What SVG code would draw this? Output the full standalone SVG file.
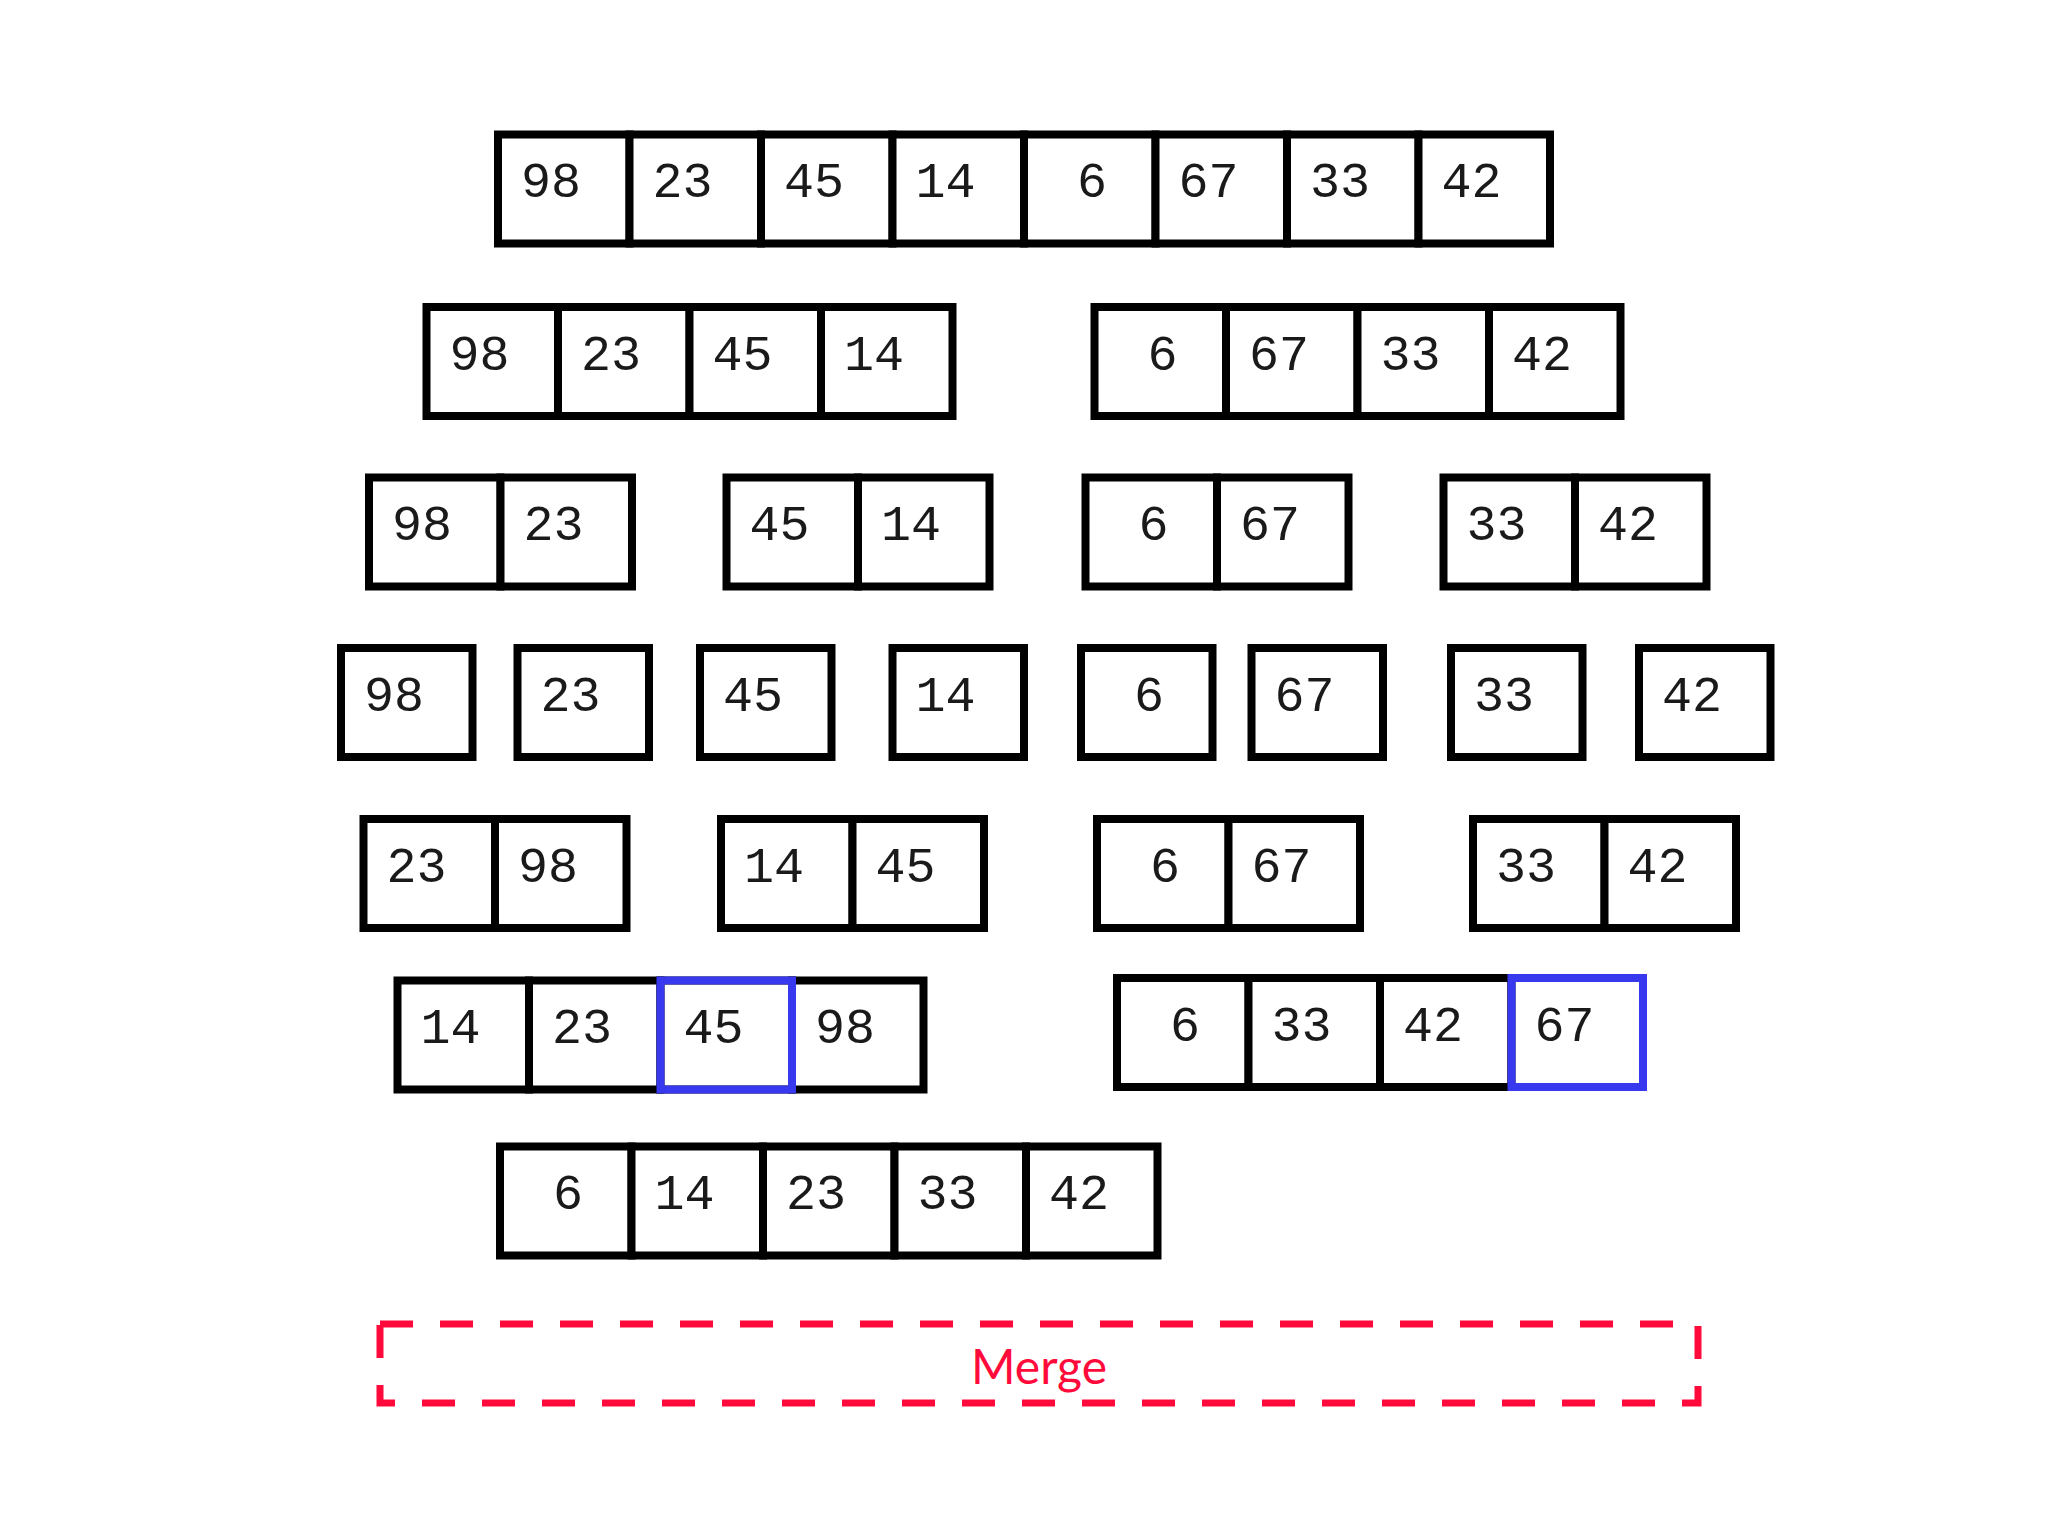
<svg xmlns="http://www.w3.org/2000/svg" width="2048" height="1536" viewBox="0 0 2048 1536">
<style>
.c{fill:#fff;stroke:#000;stroke-width:8}
.b{fill:none;stroke:#3838ee;stroke-width:8}
.t{font-family:"Liberation Mono","DejaVu Sans Mono",monospace;font-size:50px;fill:#1a1a1a}
.m{fill:none;stroke:#ff0a3a;stroke-width:7;stroke-dasharray:33 27}
.mt{font-family:Lato,"Liberation Sans",sans-serif;font-size:48px;fill:#ff0a3a;text-anchor:middle}
</style>
<rect width="2048" height="1536" fill="#fff"/>
<g id="row1">
<rect class="c" x="498" y="134.5" width="131.5" height="109"/><rect class="c" x="629.5" y="134.5" width="131.5" height="109"/><rect class="c" x="761" y="134.5" width="131.5" height="109"/><rect class="c" x="892.5" y="134.5" width="131.5" height="109"/><rect class="c" x="1024" y="134.5" width="131.5" height="109"/><rect class="c" x="1155.5" y="134.5" width="131.5" height="109"/><rect class="c" x="1287" y="134.5" width="131.5" height="109"/><rect class="c" x="1418.5" y="134.5" width="131.5" height="109"/>
<text class="t" x="521" y="197">98</text><text class="t" x="652.5" y="197">23</text><text class="t" x="784" y="197">45</text><text class="t" x="915.5" y="197">14</text><text class="t" x="1077" y="197">6</text><text class="t" x="1178.5" y="197">67</text><text class="t" x="1310" y="197">33</text><text class="t" x="1441.5" y="197">42</text>
</g>
<g id="row2-left">
<rect class="c" x="426.5" y="307" width="131.5" height="109"/><rect class="c" x="558" y="307" width="131.5" height="109"/><rect class="c" x="689.5" y="307" width="131.5" height="109"/><rect class="c" x="821" y="307" width="131.5" height="109"/>
<text class="t" x="449.5" y="369.5">98</text><text class="t" x="581" y="369.5">23</text><text class="t" x="712.5" y="369.5">45</text><text class="t" x="844" y="369.5">14</text>
</g>
<g id="row2-right">
<rect class="c" x="1094.5" y="307" width="131.5" height="109"/><rect class="c" x="1226" y="307" width="131.5" height="109"/><rect class="c" x="1357.5" y="307" width="131.5" height="109"/><rect class="c" x="1489" y="307" width="131.5" height="109"/>
<text class="t" x="1147.5" y="369.5">6</text><text class="t" x="1249" y="369.5">67</text><text class="t" x="1380.5" y="369.5">33</text><text class="t" x="1512" y="369.5">42</text>
</g>
<g id="row3-a">
<rect class="c" x="369" y="477.5" width="131.5" height="109"/><rect class="c" x="500.5" y="477.5" width="131.5" height="109"/>
<text class="t" x="392" y="540">98</text><text class="t" x="523.5" y="540">23</text>
</g>
<g id="row3-b">
<rect class="c" x="726.5" y="477.5" width="131.5" height="109"/><rect class="c" x="858" y="477.5" width="131.5" height="109"/>
<text class="t" x="749.5" y="540">45</text><text class="t" x="881" y="540">14</text>
</g>
<g id="row3-c">
<rect class="c" x="1085.5" y="477.5" width="131.5" height="109"/><rect class="c" x="1217" y="477.5" width="131.5" height="109"/>
<text class="t" x="1138.5" y="540">6</text><text class="t" x="1240" y="540">67</text>
</g>
<g id="row3-d">
<rect class="c" x="1443.5" y="477.5" width="131.5" height="109"/><rect class="c" x="1575" y="477.5" width="131.5" height="109"/>
<text class="t" x="1466.5" y="540">33</text><text class="t" x="1598" y="540">42</text>
</g>
<g id="row4-1"><rect class="c" x="341" y="648" width="131.5" height="109"/><text class="t" x="364" y="710.5">98</text></g>
<g id="row4-2"><rect class="c" x="517.5" y="648" width="131.5" height="109"/><text class="t" x="540.5" y="710.5">23</text></g>
<g id="row4-3"><rect class="c" x="700" y="648" width="131.5" height="109"/><text class="t" x="723" y="710.5">45</text></g>
<g id="row4-4"><rect class="c" x="892.5" y="648" width="131.5" height="109"/><text class="t" x="915.5" y="710.5">14</text></g>
<g id="row4-5"><rect class="c" x="1081" y="648" width="131.5" height="109"/><text class="t" x="1134" y="710.5">6</text></g>
<g id="row4-6"><rect class="c" x="1251.5" y="648" width="131.5" height="109"/><text class="t" x="1274.5" y="710.5">67</text></g>
<g id="row4-7"><rect class="c" x="1451" y="648" width="131.5" height="109"/><text class="t" x="1474" y="710.5">33</text></g>
<g id="row4-8"><rect class="c" x="1639" y="648" width="131.5" height="109"/><text class="t" x="1662" y="710.5">42</text></g>
<g id="row5-a">
<rect class="c" x="363.5" y="819" width="131.5" height="109"/><rect class="c" x="495" y="819" width="131.5" height="109"/>
<text class="t" x="386.5" y="881.5">23</text><text class="t" x="518" y="881.5">98</text>
</g>
<g id="row5-b">
<rect class="c" x="721" y="819" width="131.5" height="109"/><rect class="c" x="852.5" y="819" width="131.5" height="109"/>
<text class="t" x="744" y="881.5">14</text><text class="t" x="875.5" y="881.5">45</text>
</g>
<g id="row5-c">
<rect class="c" x="1097" y="819" width="131.5" height="109"/><rect class="c" x="1228.5" y="819" width="131.5" height="109"/>
<text class="t" x="1150" y="881.5">6</text><text class="t" x="1251.5" y="881.5">67</text>
</g>
<g id="row5-d">
<rect class="c" x="1473" y="819" width="131.5" height="109"/><rect class="c" x="1604.5" y="819" width="131.5" height="109"/>
<text class="t" x="1496" y="881.5">33</text><text class="t" x="1627.5" y="881.5">42</text>
</g>
<g id="row6-left">
<rect class="c" x="397.5" y="980.5" width="131.5" height="109"/><rect class="c" x="529" y="980.5" width="131.5" height="109"/><rect class="c" x="660.5" y="980.5" width="131.5" height="109"/><rect class="c" x="792" y="980.5" width="131.5" height="109"/>
<rect class="b" x="660.5" y="980.5" width="131.5" height="109"/>
<text class="t" x="420.5" y="1043">14</text><text class="t" x="552" y="1043">23</text><text class="t" x="683.5" y="1043">45</text><text class="t" x="815" y="1043">98</text>
</g>
<g id="row6-right">
<rect class="c" x="1117" y="978" width="131.5" height="109"/><rect class="c" x="1248.5" y="978" width="131.5" height="109"/><rect class="c" x="1380" y="978" width="131.5" height="109"/><rect class="c" x="1511.5" y="978" width="131.5" height="109"/>
<rect class="b" x="1511.5" y="978" width="131.5" height="109"/>
<text class="t" x="1170" y="1040.5">6</text><text class="t" x="1271.5" y="1040.5">33</text><text class="t" x="1403" y="1040.5">42</text><text class="t" x="1534.5" y="1040.5">67</text>
</g>
<g id="row7">
<rect class="c" x="500" y="1146.5" width="131.5" height="109"/><rect class="c" x="631.5" y="1146.5" width="131.5" height="109"/><rect class="c" x="763" y="1146.5" width="131.5" height="109"/><rect class="c" x="894.5" y="1146.5" width="131.5" height="109"/><rect class="c" x="1026" y="1146.5" width="131.5" height="109"/>
<text class="t" x="553" y="1209">6</text><text class="t" x="654.5" y="1209">14</text><text class="t" x="786" y="1209">23</text><text class="t" x="917.5" y="1209">33</text><text class="t" x="1049" y="1209">42</text>
</g>
<g id="merge-label">
<rect class="m" x="380" y="1324" width="1318" height="79"/>
<text class="mt" x="1039" y="1384">Merge</text>
</g>
</svg>
